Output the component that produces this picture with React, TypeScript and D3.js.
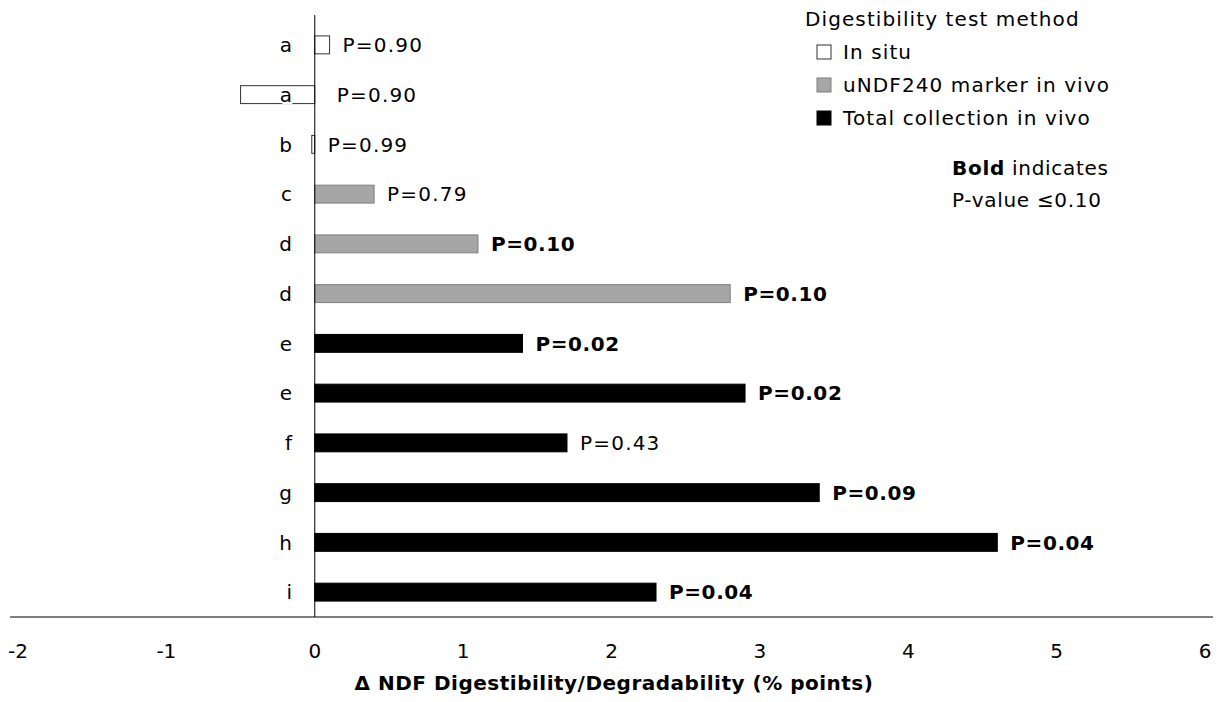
import React from "react";
import * as d3 from "d3";

const categories = ["a", "a", "b", "c", "d", "d", "e", "e", "f", "g", "h", "i"];
const values = [0.1, -0.5, -0.02, 0.4, 1.1, 2.8, 1.4, 2.9, 1.7, 3.4, 4.6, 2.3];
const methods = ["insitu", "insitu", "insitu", "undf", "undf", "undf", "total", "total", "total", "total", "total", "total"];
const pValues = [0.9, 0.9, 0.99, 0.79, 0.1, 0.1, 0.02, 0.02, 0.43, 0.09, 0.04, 0.04];
const xTicks = [-2, -1, 0, 1, 2, 3, 4, 5, 6];
const legendItems = [
  { key: "insitu", label: "In situ" },
  { key: "undf", label: "uNDF240 marker in vivo" },
  { key: "total", label: "Total collection in vivo" },
];

const fills: Record<string, string> = { insitu: "#ffffff", undf: "#a6a6a6", total: "#000000" };
const strokes: Record<string, string> = { insitu: "#333333", undf: "#7f7f7f", total: "#000000" };

const W = 1225;
const H = 702;
const FONT = "'DejaVu Sans', sans-serif";

export default function App() {
  const x = d3.scaleLinear().domain([-2, 6]).range([18, 1205]);
  const idx = categories.map((_, i) => i);
  const y = d3
    .scaleBand<number>()
    .domain(idx)
    .range([20, 617])
    .paddingInner(0.64)
    .paddingOuter(0.32);
  const bw = y.bandwidth();

  return (
    <svg
      width={W}
      height={H}
      style={{ position: "absolute", left: 0, top: 0, background: "#fff" }}
      fontFamily={FONT}
    >
      <rect x={0} y={0} width={W} height={H} fill="#fff" />
      {/* bars */}
      {idx.map((i) => {
        const v = values[i];
        const x0 = x(Math.min(0, v));
        const x1 = x(Math.max(0, v));
        return (
          <rect
            key={"b" + i}
            x={x0}
            y={y(i)!}
            width={Math.max(x1 - x0, 1)}
            height={bw}
            fill={fills[methods[i]]}
            stroke={strokes[methods[i]]}
            strokeWidth={1}
          />
        );
      })}
      {/* category labels */}
      {idx.map((i) => (
        <text
          key={"c" + i}
          x={292}
          y={y(i)! + bw / 2}
          dy="0.36em"
          textAnchor="end"
          fontSize={20}
          fill="#000"
          style={{ paintOrder: "stroke" }}
          stroke="#fff"
          strokeWidth={4}
        >
          {categories[i]}
        </text>
      ))}
      {/* axes */}
      <line x1={x(0)} x2={x(0)} y1={15} y2={617} stroke="#000" strokeWidth={1} />
      <line x1={10} x2={1213} y1={617} y2={617} stroke="#000" strokeWidth={1} />
      {xTicks.map((t) => (
        <text key={"t" + t} x={x(t)} y={658} textAnchor="middle" fontSize={20} fill="#000">
          {t}
        </text>
      ))}
      <text
        x={614}
        y={690}
        textAnchor="middle"
        fontSize={20}
        fontWeight="bold"
        letterSpacing={0.5}
        fill="#000"
      >
        {"\u0394 NDF Digestibility/Degradability (% points)"}
      </text>
      {/* p labels */}
      {idx.map((i) => {
        const bold = pValues[i] <= 0.1;
        return (
          <text
            key={"p" + i}
            x={x(Math.max(0, values[i])) + (values[i] < -0.1 ? 22 : 13)}
            y={y(i)! + bw / 2}
            dy="0.36em"
            fontSize={20}
            letterSpacing={bold ? 0.6 : 1.2}
            fontWeight={bold ? "bold" : "normal"}
            fill="#000"
          >
            {"P=" + pValues[i].toFixed(2)}
          </text>
        );
      })}
      {/* legend */}
      <text x={805} y={26} fontSize={20} letterSpacing={1.1} fill="#000">
        Digestibility test method
      </text>
      {legendItems.map((it, k) => (
        <g key={it.key} transform={`translate(817, ${45 + k * 33})`}>
          <rect x={0} y={0} width={14} height={14} fill={fills[it.key]} stroke={strokes[it.key]} />
          <text x={26} y={14} fontSize={20} letterSpacing={1.1} fill="#000">
            {it.label}
          </text>
        </g>
      ))}
      <text x={952} y={175} fontSize={20} letterSpacing={0.7} fill="#000">
        <tspan fontWeight="bold">Bold</tspan> indicates
      </text>
      <text x={952} y={207} fontSize={20} letterSpacing={0.7} fill="#000">
        {"P-value \u22640.10"}
      </text>
    </svg>
  );
}
